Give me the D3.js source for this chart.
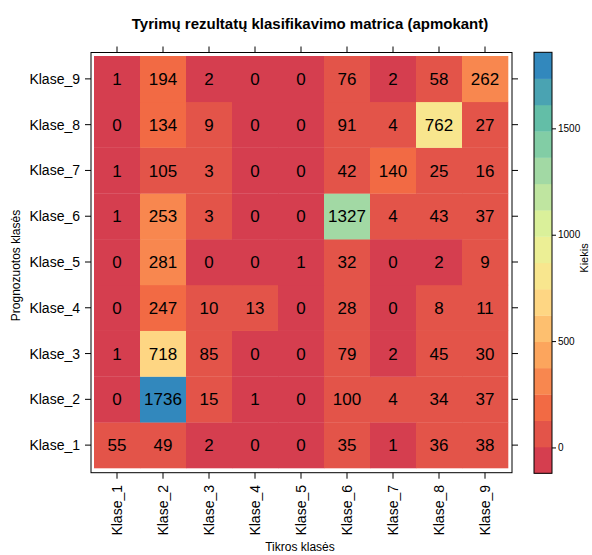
<!DOCTYPE html>
<html><head><meta charset="utf-8">
<script src="https://cdn.jsdelivr.net/npm/d3@7/dist/d3.min.js"></script>
<style>body{margin:0;background:#fff;} text{font-family:"Liberation Sans",Arial,sans-serif;}</style>
</head><body>
<svg id="c" width="592" height="555"></svg>
<script>
const trueClasses = ["Klase_1","Klase_2","Klase_3","Klase_4","Klase_5","Klase_6","Klase_7","Klase_8","Klase_9"];
const predClasses = ["Klase_1","Klase_2","Klase_3","Klase_4","Klase_5","Klase_6","Klase_7","Klase_8","Klase_9"];
// rows: predicted class (Klase_1..Klase_9), columns: true class
const predKlase1 = [55,49,2,0,0,35,1,36,38];
const predKlase2 = [0,1736,15,1,0,100,4,34,37];
const predKlase3 = [1,718,85,0,0,79,2,45,30];
const predKlase4 = [0,247,10,13,0,28,0,8,11];
const predKlase5 = [0,281,0,0,1,32,0,2,9];
const predKlase6 = [1,253,3,0,0,1327,4,43,37];
const predKlase7 = [1,105,3,0,0,42,140,25,16];
const predKlase8 = [0,134,9,0,0,91,4,762,27];
const predKlase9 = [1,194,2,0,0,76,2,58,262];
const colorbarTicks = [0,500,1000,1500];
const paletteColors = ["#d53e4f","#f46d43","#fdae61","#fee08b","#e6f598","#abdda4","#66c2a5","#3288bd"];
const nBands = 16;

const rows = [predKlase1,predKlase2,predKlase3,predKlase4,predKlase5,predKlase6,predKlase7,predKlase8,predKlase9];
const cells = [];
rows.forEach((r,i)=>r.forEach((v,j)=>cells.push({pred:predClasses[i],tru:trueClasses[j],v})));

const maxV = d3.max(cells,d=>d.v), minV = d3.min(cells,d=>d.v);
const ext = 0.07*(maxV-minV);
const lo = minV-ext, hi = maxV+ext;
const breaks = d3.range(nBands+1).map(i=>lo+(hi-lo)*i/nBands);
const interp = d3.piecewise(d3.interpolateRgb, paletteColors);
const bandColors = d3.range(nBands).map(i=>interp(i/(nBands-1)));
const color = d3.scaleThreshold().domain(breaks.slice(1,-1)).range(bandColors);

const svg = d3.select("#c");
const P = {l:91,r:512,t:52.5,b:472.7};
const x = d3.scaleBand().domain(trueClasses).range([94,508]);
const y = d3.scaleBand().domain(predClasses).range([468,56]);

svg.append("g").selectAll("rect").data(cells).join("rect")
  .attr("x",d=>x(d.tru)).attr("y",d=>y(d.pred))
  .attr("width",x.bandwidth()+0.3).attr("height",y.bandwidth()+0.3)
  .attr("fill",d=>color(d.v));

svg.append("g").selectAll("text").data(cells).join("text")
  .attr("x",d=>x(d.tru)+x.bandwidth()/2).attr("y",d=>y(d.pred)+y.bandwidth()/2)
  .attr("text-anchor","middle").attr("dy","0.36em")
  .attr("font-size",17).attr("fill","#000").text(d=>d.v);

svg.append("rect").attr("x",P.l).attr("y",P.t).attr("width",P.r-P.l).attr("height",P.b-P.t)
  .attr("fill","none").attr("stroke","#000").attr("stroke-width",1);

const tk = 6;
const g = svg.append("g").attr("stroke","#000").attr("stroke-width",1);
trueClasses.forEach(c=>{
  const cx = x(c)+x.bandwidth()/2;
  g.append("line").attr("x1",cx).attr("x2",cx).attr("y1",P.t).attr("y2",P.t-tk);
  g.append("line").attr("x1",cx).attr("x2",cx).attr("y1",P.b).attr("y2",P.b+tk);
});
predClasses.forEach(c=>{
  const cy = y(c)+y.bandwidth()/2;
  g.append("line").attr("x1",P.l).attr("x2",P.l-tk).attr("y1",cy).attr("y2",cy);
  g.append("line").attr("x1",P.r).attr("x2",P.r+tk).attr("y1",cy).attr("y2",cy);
});

svg.append("g").selectAll("text").data(trueClasses).join("text")
  .attr("transform",d=>`translate(${x(d)+x.bandwidth()/2},485) rotate(-90)`)
  .attr("text-anchor","end").attr("dy","0.36em").attr("font-size",14).text(d=>d);

svg.append("g").selectAll("text").data(predClasses).join("text")
  .attr("x",80).attr("y",d=>y(d)+y.bandwidth()/2).attr("dy","0.36em")
  .attr("text-anchor","end").attr("font-size",14).text(d=>d);

svg.append("text").attr("x",310).attr("y",29).attr("text-anchor","middle")
  .attr("font-size",15).attr("font-weight","bold").text("Tyrimų rezultatų klasifikavimo matrica (apmokant)");
svg.append("text").attr("x",300).attr("y",551).attr("text-anchor","middle").attr("font-size",12).text("Tikros klasės");
svg.append("text").attr("transform","translate(16,265.5) rotate(-90)").attr("text-anchor","middle")
  .attr("dy","0.36em").attr("font-size",12).text("Prognozuotos klasės");

// colorbar
const cb = {x0:534,x1:552,top:52.3,bot:473.3};
const cy = d3.scaleLinear().domain([lo,hi]).range([cb.bot,cb.top]);
svg.append("g").selectAll("rect").data(bandColors).join("rect")
  .attr("x",cb.x0).attr("width",cb.x1-cb.x0)
  .attr("y",(d,i)=>cy(breaks[i+1])).attr("height",(d,i)=>cy(breaks[i])-cy(breaks[i+1])+0.3)
  .attr("fill",d=>d);
svg.append("rect").attr("x",cb.x0).attr("y",cb.top).attr("width",cb.x1-cb.x0).attr("height",cb.bot-cb.top)
  .attr("fill","none").attr("stroke","#000");
const ca = svg.append("g").attr("transform",`translate(${cb.x1},0)`)
  .call(d3.axisRight(cy).tickValues(colorbarTicks).tickFormat(d3.format("d")).tickSize(4).tickPadding(2));
ca.select(".domain").remove();
ca.selectAll("text").attr("font-size",10).attr("font-family","Liberation Sans, Arial, sans-serif");
svg.append("text").attr("transform","translate(584,258) rotate(-90)").attr("text-anchor","middle")
  .attr("dy","0.36em").attr("font-size",11).text("Kiekis");
</script>
</body></html>
